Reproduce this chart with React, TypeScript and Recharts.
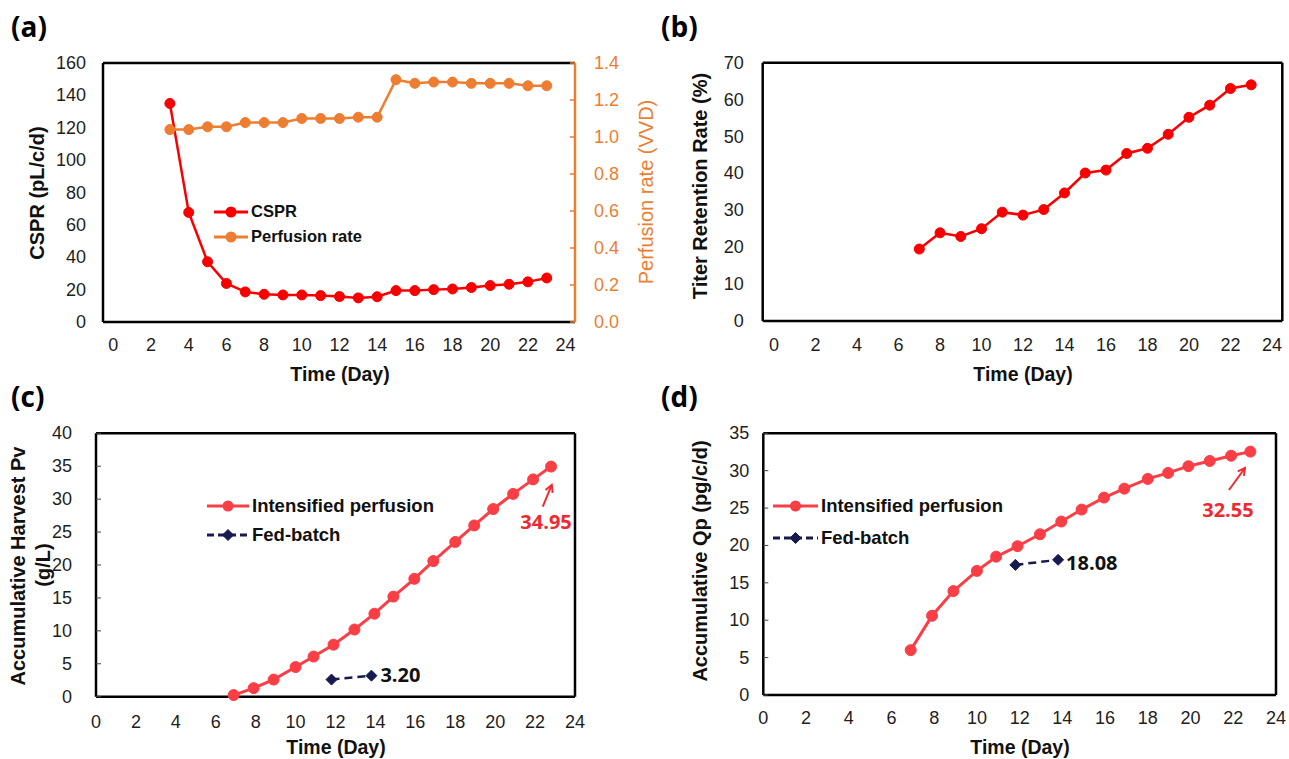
import React from 'react';
import { LineChart, Line, XAxis, YAxis, Legend, LabelList, ReferenceLine } from 'recharts';

// ---------------- data ----------------
const xTicks = [0, 2, 4, 6, 8, 10, 12, 14, 16, 18, 20, 22, 24];

// (a)
const daysA = [3, 4, 5, 6, 7, 8, 9, 10, 11, 12, 13, 14, 15, 16, 17, 18, 19, 20, 21, 22, 23];
const csprA = [135, 67.7, 37.2, 23.8, 18.6, 17.1, 16.7, 16.7, 16.3, 15.7, 14.9, 15.6, 19.4, 19.4, 20, 20.4, 21.3, 22.5, 23.3, 24.8, 27.2];
const perfusionA = [1.04, 1.04, 1.055, 1.055, 1.078, 1.078, 1.078, 1.1, 1.1, 1.1, 1.107, 1.107, 1.31, 1.29, 1.297, 1.297, 1.29, 1.29, 1.29, 1.277, 1.277];
const cspTicks = [0, 20, 40, 60, 80, 100, 120, 140, 160];
const perfTicks = [0, 0.2, 0.4, 0.6, 0.8, 1.0, 1.2, 1.4];

// (b)
const daysB = [7, 8, 9, 10, 11, 12, 13, 14, 15, 16, 17, 18, 19, 20, 21, 22, 23];
const titerB = [19.5, 23.9, 22.9, 25, 29.5, 28.7, 30.2, 34.7, 40.1, 40.9, 45.4, 46.8, 50.6, 55.2, 58.5, 63.0, 64.0];
const titerTicks = [0, 10, 20, 30, 40, 50, 60, 70];

// (c) & (d)
const daysIntensified = [6.9, 7.9, 8.9, 10, 10.9, 11.9, 12.95, 13.95, 14.9, 15.95, 16.9, 18, 18.95, 19.9, 20.9, 21.9, 22.8];
const harvestIntensified = [0.25, 1.3, 2.6, 4.5, 6.1, 7.9, 10.2, 12.6, 15.2, 17.9, 20.6, 23.5, 26.0, 28.5, 30.8, 33.0, 34.95];
const daysFedBatch = [11.8, 13.8];
const harvestFedBatch = [2.6, 3.2];
const harvestTicks = [0, 5, 10, 15, 20, 25, 30, 35, 40];
const qpIntensified = [6.0, 10.6, 13.9, 16.6, 18.5, 19.9, 21.5, 23.2, 24.8, 26.4, 27.6, 28.9, 29.7, 30.6, 31.3, 32.0, 32.55];
const qpFedBatch = [17.4, 18.08];
const qpTicks = [0, 5, 10, 15, 20, 25, 30, 35];

const legendOrder = ['CSPR', 'Perfusion rate', 'Intensified perfusion', 'Fed-batch'];

// ---------------- style ----------------
const FONT = '"Liberation Sans", Arial, Helvetica, sans-serif';
const NUMFONT = '"Open Sans", "Liberation Sans", Arial, sans-serif';
const TICK_FS = 18;
const TICK_COLOR = '#1e1e1e';
const RED = '#F80000';
const ORANGE = '#ED7D31';
const RED2 = '#FA3E46';
const LABEL_RED = '#EE2A30';
const NAVY = '#161A50';
const AXIS = { stroke: '#000', strokeWidth: 2.5 };

const dataA = daysA.map((d, i) => ({ day: d, cspr: csprA[i], perf: perfusionA[i] }));
const dataB = daysB.map((d, i) => ({ day: d, titer: titerB[i] }));
const dataCInt = daysIntensified.map((d, i) => ({ day: d, v: harvestIntensified[i] }));
const dataCFed = daysFedBatch.map((d, i) => ({ day: d, v: harvestFedBatch[i] }));
const dataDInt = daysIntensified.map((d, i) => ({ day: d, v: qpIntensified[i] }));
const dataDFed = daysFedBatch.map((d, i) => ({ day: d, v: qpFedBatch[i] }));

// ---------------- helpers ----------------
const XTick = (p: any) => (
  <text x={p.x} y={p.y} textAnchor="middle" dominantBaseline="central" fontSize={TICK_FS} fontFamily={FONT} fill={TICK_COLOR}>
    {p.payload.value}
  </text>
);

const makeLeftTick = (gap: number, inward: boolean) => (p: any) => (
  <g>
    {inward && <line x1={p.x + gap} x2={p.x + gap + 5} y1={p.y} y2={p.y} stroke="#444" strokeWidth={1} />}
    <text x={p.x} y={p.y} textAnchor="end" dominantBaseline="central" fontSize={TICK_FS} fontFamily={FONT} fill={TICK_COLOR}>
      {p.payload.value}
    </text>
  </g>
);

const makeRightTick = (gap: number) => (p: any) => (
  <g>
    <line x1={p.x - gap - 5} x2={p.x - gap} y1={p.y} y2={p.y} stroke={ORANGE} strokeWidth={1.5} />
    <text x={p.x} y={p.y} textAnchor="start" dominantBaseline="central" fontSize={TICK_FS} fontFamily={FONT} fill={ORANGE}>
      {Number(p.payload.value).toFixed(1)}
    </text>
  </g>
);

const Diamond = ({ cx, cy, s, color }: any) => (
  <polygon points={`${cx},${cy - s} ${cx + s},${cy} ${cx},${cy + s} ${cx - s},${cy}`} fill={color} stroke={color} />
);

const diamondDot = (p: any) => <Diamond key={`dm-${p.index}`} cx={p.cx} cy={p.cy} s={5.5} color={NAVY} />;

const makeLegend = (lineLen: number, rowH: number, fs: number) => (props: any) => {
  const items = [...(props.payload || [])].sort((a: any, b: any) => legendOrder.indexOf(a.value) - legendOrder.indexOf(b.value));
  return (
    <div style={{ display: 'flex', flexDirection: 'column' }}>
      {items.map((e: any) => {
        const dashed = e.payload && e.payload.strokeDasharray;
        const diamond = e.value === 'Fed-batch';
        const m = lineLen / 2;
        return (
          <div key={e.value} style={{ display: 'flex', alignItems: 'center', height: rowH }}>
            <svg width={lineLen} height={14} style={{ overflow: 'visible' }}>
              <line x1={0} x2={lineLen} y1={7} y2={7} stroke={e.color} strokeWidth={3} strokeDasharray={dashed ? '7 4' : undefined} />
              {diamond ? <Diamond cx={m} cy={7} s={5.5} color={e.color} /> : <circle cx={m} cy={7} r={5.5} fill={e.color} />}
            </svg>
            <span style={{ marginLeft: 3, fontWeight: 700, fontSize: fs, fontFamily: FONT, color: '#111', whiteSpace: 'nowrap', lineHeight: 1 }}>
              {e.value}
            </span>
          </div>
        );
      })}
    </div>
  );
};

const pointXY = (p: any) => {
  const x = p.x != null ? p.x : p.viewBox ? p.viewBox.x : 0;
  const y = p.y != null ? p.y : p.viewBox ? p.viewBox.y : 0;
  return { x, y };
};

const makeArrowLabel = (n: number, a: number[], t: number[], color: string) => (p: any) => {
  if (p.index !== n - 1) return null;
  const { x, y } = pointXY(p);
  const x1 = x + a[0], y1 = y + a[1], x2 = x + a[2], y2 = y + a[3];
  const ang = Math.atan2(y2 - y1, x2 - x1);
  const hl = 8, sp = 0.5;
  const h1x = x2 - hl * Math.cos(ang - sp), h1y = y2 - hl * Math.sin(ang - sp);
  const h2x = x2 - hl * Math.cos(ang + sp), h2y = y2 - hl * Math.sin(ang + sp);
  return (
    <g key="arrow">
      <line x1={x1} y1={y1} x2={x2} y2={y2} stroke={color} strokeWidth={2} />
      <polyline points={`${h1x},${h1y} ${x2},${y2} ${h2x},${h2y}`} fill="none" stroke={color} strokeWidth={2} />
      <text x={x + t[0]} y={y + t[1]} textAnchor="middle" dominantBaseline="central" fontSize={20} fontWeight={700} fontFamily={NUMFONT} fill={color}>
        {p.value}
      </text>
    </g>
  );
};

const makeSideLabel = (n: number, dx: number, dy: number) => (p: any) => {
  if (p.index !== n - 1) return null;
  const { x, y } = pointXY(p);
  return (
    <text key="side" x={x + dx} y={y + dy} textAnchor="start" dominantBaseline="central" fontSize={20} fontWeight={700} fontFamily={NUMFONT} fill="#111">
      {Number(p.value).toFixed(2)}
    </text>
  );
};

const HTitle = ({ cx, cy, text, size = 19.5 }: any) => (
  <div style={{ position: 'absolute', left: cx, top: cy, transform: 'translate(-50%,-50%)', whiteSpace: 'nowrap', fontSize: size, fontWeight: 700, fontFamily: FONT, color: '#111', lineHeight: 1 }}>
    {text}
  </div>
);

const VTitle = ({ cx, cy, text, size = 20, color = '#111', weight = 700 }: any) => (
  <div style={{ position: 'absolute', left: cx, top: cy, transform: 'translate(-50%,-50%) rotate(-90deg)', whiteSpace: 'nowrap', fontSize: size, fontWeight: weight, fontFamily: FONT, color, lineHeight: 1 }}>
    {text}
  </div>
);

const PanelLetter = ({ x, y, text }: any) => (
  <div style={{ position: 'absolute', left: x, top: y, fontSize: 28, fontWeight: 700, fontFamily: NUMFONT, color: '#000', lineHeight: 1 }}>{text}</div>
);

const BORDER = { stroke: '#000', strokeWidth: 2.5 };

export default function App() {
  const xdomAB: [number, number] = [-0.55, 24.5];
  const xdomCD: [number, number] = [0, 24];
  return (
    <div style={{ position: 'absolute', left: 0, top: 0, width: 1289, height: 759, background: '#fff', fontFamily: FONT, overflow: 'hidden' }}>
      {/* (a) */}
      <div style={{ position: 'absolute', left: 0, top: 0 }}>
        <LineChart width={680} height={400} data={dataA} margin={{ top: 63, left: 43, right: 45, bottom: 48 }}>
          <XAxis dataKey="day" type="number" domain={xdomAB} ticks={xTicks} interval={0} height={30} tickSize={0} tickMargin={23} tickLine={false} axisLine={AXIS} tick={XTick} />
          <YAxis yAxisId="left" type="number" domain={[0, 160]} ticks={cspTicks} interval={0} width={60} tickSize={0} tickMargin={17} tickLine={false} axisLine={AXIS} tick={makeLeftTick(17, false)} />
          <YAxis yAxisId="perf" orientation="right" type="number" domain={[0, 1.4]} ticks={perfTicks} interval={0} width={60} tickSize={0} tickMargin={19} tickLine={false} axisLine={{ stroke: ORANGE, strokeWidth: 2.5 }} tick={makeRightTick(19)} />
          <ReferenceLine yAxisId="left" y={160} {...BORDER} />
          <Line yAxisId="left" type="linear" dataKey="cspr" name="CSPR" stroke={RED} strokeWidth={2.5} dot={{ r: 5, fill: RED, stroke: RED, strokeWidth: 1 }} isAnimationActive={false} />
          <Line yAxisId="perf" type="linear" dataKey="perf" name="Perfusion rate" stroke={ORANGE} strokeWidth={2.5} dot={{ r: 5, fill: ORANGE, stroke: ORANGE, strokeWidth: 1 }} isAnimationActive={false} />
          <Legend layout="vertical" align="center" verticalAlign="middle" wrapperStyle={{ left: 214, top: 199, width: 'auto' }} content={makeLegend(34, 25, 16.5)} />
        </LineChart>
      </div>

      {/* (b) */}
      <div style={{ position: 'absolute', left: 640, top: 0 }}>
        <LineChart width={649} height={400} data={dataB} margin={{ top: 62.7, left: 62.7, right: 6.7, bottom: 49 }}>
          <XAxis dataKey="day" type="number" domain={xdomAB} ticks={xTicks} interval={0} height={30} tickSize={0} tickMargin={24} tickLine={false} axisLine={AXIS} tick={XTick} />
          <YAxis type="number" domain={[0, 70]} ticks={titerTicks} interval={0} width={60} tickSize={0} tickMargin={19} tickLine={false} axisLine={AXIS} tick={makeLeftTick(19, false)} />
          <ReferenceLine y={70} {...BORDER} />
          <ReferenceLine x={24.5} {...BORDER} />
          <Line type="linear" dataKey="titer" name="Titer Retention Rate" stroke={RED} strokeWidth={2.5} dot={{ r: 5, fill: RED, stroke: RED, strokeWidth: 1 }} isAnimationActive={false} />
        </LineChart>
      </div>

      {/* (c) */}
      <div style={{ position: 'absolute', left: 0, top: 380 }}>
        <LineChart width={640} height={379} margin={{ top: 53.3, left: 46, right: 65, bottom: 32.3 }}>
          <XAxis dataKey="day" type="number" domain={xdomCD} ticks={xTicks} interval={0} height={30} tickSize={0} tickMargin={25} tickLine={false} axisLine={AXIS} tick={XTick} />
          <YAxis type="number" domain={[0, 40]} ticks={harvestTicks} interval={0} width={50} tickSize={0} tickMargin={24} tickLine={false} axisLine={AXIS} tick={makeLeftTick(24, true)} />
          <ReferenceLine y={40} {...BORDER} />
          <ReferenceLine x={24} {...BORDER} />
          <Line data={dataCInt} type="linear" dataKey="v" name="Intensified perfusion" stroke={RED2} strokeWidth={3} dot={{ r: 5.5, fill: RED2, stroke: RED2, strokeWidth: 1 }} isAnimationActive={false}>
            <LabelList dataKey="v" content={makeArrowLabel(dataCInt.length, [-8.3, 40, 0.7, 18.4], [-5, 54.5], LABEL_RED)} />
          </Line>
          <Line data={dataCFed} type="linear" dataKey="v" name="Fed-batch" stroke={NAVY} strokeWidth={2.5} strokeDasharray="8 5" dot={diamondDot} isAnimationActive={false}>
            <LabelList dataKey="v" content={makeSideLabel(dataCFed.length, 9, -1.5)} />
          </Line>
          <Legend layout="vertical" align="center" verticalAlign="middle" wrapperStyle={{ left: 207, top: 111.5, width: 'auto' }} content={makeLegend(42, 29, 18.5)} />
        </LineChart>
      </div>

      {/* (d) */}
      <div style={{ position: 'absolute', left: 640, top: 380 }}>
        <LineChart width={649} height={379} margin={{ top: 53.3, left: 63.3, right: 13, bottom: 34 }}>
          <XAxis dataKey="day" type="number" domain={xdomCD} ticks={xTicks} interval={0} height={30} tickSize={0} tickMargin={23} tickLine={false} axisLine={AXIS} tick={XTick} />
          <YAxis type="number" domain={[0, 35]} ticks={qpTicks} interval={0} width={60} tickSize={0} tickMargin={14} tickLine={false} axisLine={AXIS} tick={makeLeftTick(14, true)} />
          <ReferenceLine y={35} {...BORDER} />
          <ReferenceLine x={24} {...BORDER} />
          <Line data={dataDInt} type="linear" dataKey="v" name="Intensified perfusion" stroke={RED2} strokeWidth={3} dot={{ r: 5.5, fill: RED2, stroke: RED2, strokeWidth: 1 }} isAnimationActive={false}>
            <LabelList dataKey="v" content={makeArrowLabel(dataDInt.length, [-21.4, 38.4, -5.4, 16.4], [-22.4, 57.4], LABEL_RED)} />
          </Line>
          <Line data={dataDFed} type="linear" dataKey="v" name="Fed-batch" stroke={NAVY} strokeWidth={2.5} strokeDasharray="8 5" dot={diamondDot} isAnimationActive={false}>
            <LabelList dataKey="v" content={makeSideLabel(dataDFed.length, 8, 3)} />
          </Line>
          <Legend layout="vertical" align="center" verticalAlign="middle" wrapperStyle={{ left: 133, top: 110, width: 'auto' }} content={makeLegend(45, 32, 18.5)} />
        </LineChart>
      </div>

      {/* titles */}
      <PanelLetter x={11} y={12} text="(a)" />
      <PanelLetter x={661} y={12} text="(b)" />
      <PanelLetter x={11} y={382} text="(c)" />
      <PanelLetter x={661} y={382} text="(d)" />

      <VTitle cx={37} cy={193} text="CSPR (pL/c/d)" />
      <VTitle cx={646} cy={192} text="Perfusion rate (VVD)" color={ORANGE} weight={400} />
      <HTitle cx={340} cy={375} text="Time (Day)" />

      <VTitle cx={700} cy={186} text="Titer Retention Rate (%)" />
      <HTitle cx={1023} cy={375} text="Time (Day)" />

      <VTitle cx={18} cy={566} text="Accumulative Harvest Pv" />
      <VTitle cx={43} cy={565} text="(g/L)" />
      <HTitle cx={336} cy={748} text="Time (Day)" />

      <VTitle cx={700} cy={561} text="Accumulative Qp (pg/c/d)" />
      <HTitle cx={1020} cy={748} text="Time (Day)" />
    </div>
  );
}
